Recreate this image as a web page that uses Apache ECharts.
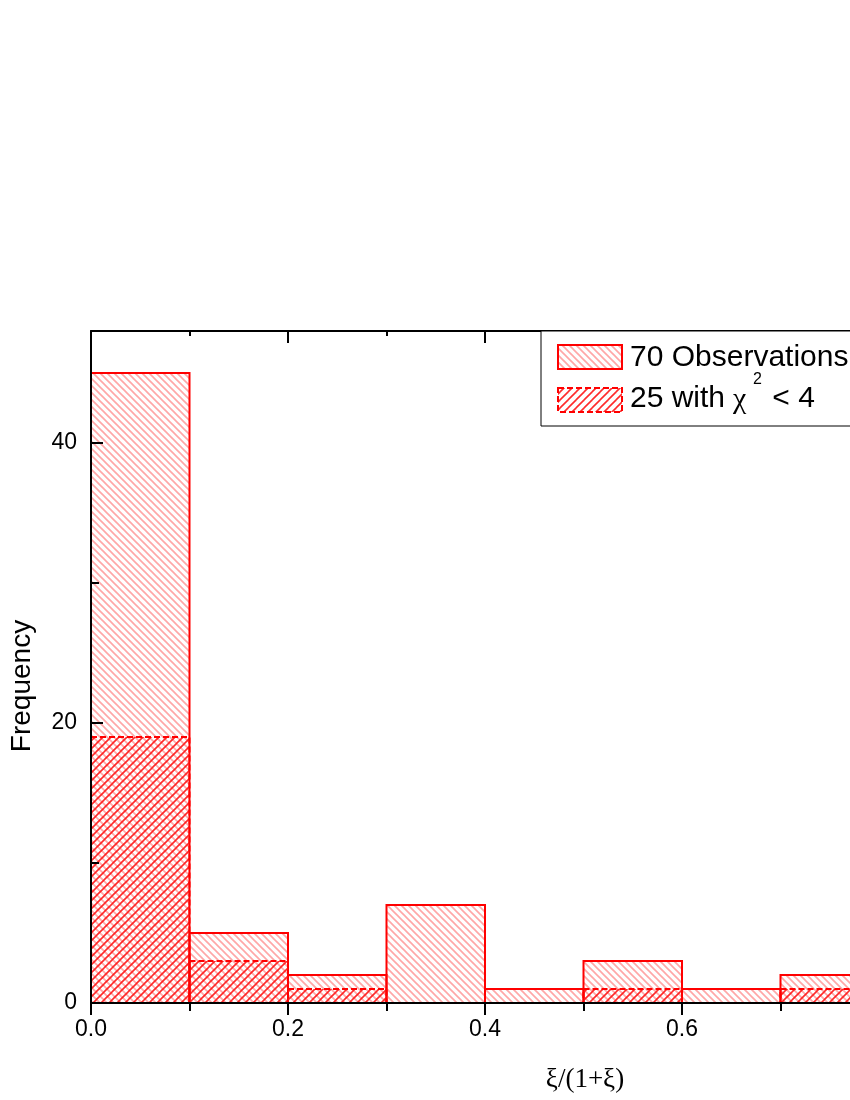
<!DOCTYPE html>
<html>
<head>
<meta charset="utf-8">
<script src="https://cdn.jsdelivr.net/npm/echarts@6/dist/echarts.min.js"></script>
<style>
html,body{margin:0;padding:0;background:#fff;}
#c{width:850px;height:1100px;}
</style>
</head>
<body>
<div id="c"></div>
<script>
// ---- data ----
const binEdges = [0.0, 0.1, 0.2, 0.3, 0.4, 0.5, 0.6, 0.7, 0.8, 0.9, 1.0];
const obsAll = [45, 5, 2, 7, 1, 3, 1, 2, 2, 2];      // 70 Observations
const obsChi = [19, 3, 1, 0, 0, 1, 0, 1, 0, 0];      // 25 with chi^2 < 4
const xTickLabels = ['0.0', '0.2', '0.4', '0.6', '0.8', '1.0'];
const yTickValues = [0, 20, 40];
const yMinorTickValues = [10, 30];
const legendNames = ['70 Observations', '25 with ', 'χ', '2', ' < 4'];
const xTitle = 'ξ/(1+ξ)';
const yTitle = 'Frequency';

// ---- hatch patterns ----
function hatch(dir, color, width, p) {
  const c = document.createElement('canvas');
  c.width = p; c.height = p;
  const g = c.getContext('2d');
  g.strokeStyle = color; g.lineWidth = width; g.lineCap = 'square';
  for (let k = -1; k <= 1; k++) {
    g.beginPath();
    if (dir === 'back') { g.moveTo(k * p, 0); g.lineTo(k * p + p, p); }
    else { g.moveTo(k * p, p); g.lineTo(k * p + p, 0); }
    g.stroke();
  }
  return c;
}
const patAll = { image: hatch('back', 'rgba(255,80,80,0.5)', 1.7, 7), repeat: 'repeat' };
const patChi = { image: hatch('fwd', 'rgba(255,20,20,0.9)', 1.6, 8), repeat: 'repeat' };

const dataAll = obsAll.map((v, i) => [binEdges[i], binEdges[i + 1], v]);
const dataChi = obsChi.map((v, i) => [binEdges[i], binEdges[i + 1], v]);

function makeRender(fill, dash) {
  return function (params, api) {
    const v = api.value(2);
    if (!v) return null;
    const p0 = api.coord([api.value(0), v]);
    const p1 = api.coord([api.value(1), 0]);
    return {
      type: 'rect',
      shape: { x: p0[0], y: p0[1], width: p1[0] - p0[0], height: p1[1] - p0[1] },
      style: { fill: fill, stroke: '#ff0000', lineWidth: 2, lineDash: dash }
    };
  };
}

const chart = echarts.init(document.getElementById('c'), null, { renderer: 'canvas' });
const lab = { fontFamily: 'Liberation Sans, Arial, sans-serif', fontSize: 23, color: '#000' };

chart.setOption({
  animation: false,
  backgroundColor: '#fff',
  grid: { left: 91, top: 331, right: -226, bottom: 97, containLabel: false, outerBoundsMode: 'none' },
  xAxis: [
    {
      type: 'value', position: 'bottom', min: 0, max: 1, interval: 0.2, z: 10,
      axisLine: { show: true, onZero: false, lineStyle: { color: '#000', width: 2 } },
      axisTick: { show: true, inside: false, length: 12, lineStyle: { color: '#000', width: 2 } },
      minorTick: { show: true, splitNumber: 2, length: 8, lineStyle: { color: '#000', width: 2 } },
      axisLabel: Object.assign({ margin: 15, formatter: (v) => xTickLabels[Math.round(v / 0.2)] }, lab),
      splitLine: { show: false }, minorSplitLine: { show: false }
    },
    {
      type: 'value', position: 'top', min: 0, max: 1, interval: 0.2, z: 10,
      axisLine: { show: true, onZero: false, lineStyle: { color: '#000', width: 2 } },
      axisTick: { show: true, inside: true, length: 12, lineStyle: { color: '#000', width: 2 } },
      minorTick: { show: true, splitNumber: 2, length: 5, lineStyle: { color: '#000', width: 2 } },
      axisLabel: { show: false }, splitLine: { show: false }
    }
  ],
  yAxis: [
    {
      type: 'value', position: 'left', min: 0, max: 48, z: 10,
      axisLine: { show: true, onZero: false, lineStyle: { color: '#000', width: 2 } },
      axisTick: { show: true, inside: true, length: 12, customValues: yTickValues, lineStyle: { color: '#000', width: 2 } },
      axisLabel: Object.assign({ margin: 14, customValues: yTickValues }, lab),
      splitLine: { show: false }
    },
    {
      type: 'value', position: 'left', offset: 0, min: 0, max: 48, z: 10,
      axisLine: { show: false, onZero: false },
      axisTick: { show: true, inside: true, length: 8, customValues: yMinorTickValues, lineStyle: { color: '#000', width: 2 } },
      axisLabel: { show: false }, splitLine: { show: false }
    }
  ],
  series: [
    {
      type: 'custom', name: legendNames[0], xAxisIndex: 0, yAxisIndex: 0, z: 2,
      encode: { x: [0, 1], y: 2 }, data: dataAll, renderItem: makeRender(patAll, null)
    },
    {
      type: 'custom', name: '25', xAxisIndex: 0, yAxisIndex: 0, z: 3,
      encode: { x: [0, 1], y: 2 }, data: dataChi, renderItem: makeRender(patChi, [6, 3])
    }
  ],
  graphic: [
    { type: 'rect', z: 20, shape: { x: 541, y: 331, width: 340, height: 95 },
      style: { fill: '#fff', stroke: '#000', lineWidth: 1 } },
    { type: 'rect', z: 21, shape: { x: 558, y: 345, width: 64, height: 24 },
      style: { fill: patAll, stroke: '#ff0000', lineWidth: 2 } },
    { type: 'rect', z: 21, shape: { x: 558, y: 388, width: 64, height: 24 },
      style: { fill: patChi, stroke: '#ff0000', lineWidth: 2, lineDash: [6, 3] } },
    { type: 'text', z: 21, x: 630, y: 357.5,
      style: { text: legendNames[0], font: '30px "Liberation Sans", Arial, sans-serif', fill: '#000', verticalAlign: 'middle' } },
    { type: 'text', z: 21, x: 630, y: 399,
      style: { text: legendNames[1], font: '30px "Liberation Sans", Arial, sans-serif', fill: '#000', verticalAlign: 'middle' } },
    { type: 'text', z: 21, x: 733, y: 400,
      style: { text: legendNames[2], font: '30px "Liberation Serif", serif', fill: '#000', verticalAlign: 'middle' } },
    { type: 'text', z: 21, x: 753, y: 372,
      style: { text: legendNames[3], font: '16px "Liberation Sans", Arial, sans-serif', fill: '#000', verticalAlign: 'top' } },
    { type: 'text', z: 21, x: 764, y: 399,
      style: { text: legendNames[4], font: '30px "Liberation Sans", Arial, sans-serif', fill: '#000', verticalAlign: 'middle' } },
    { type: 'text', z: 21, x: 585, y: 1080,
      style: { text: xTitle, font: '27px "Liberation Serif", "Times New Roman", serif', fill: '#000', align: 'center', verticalAlign: 'middle' } },
    { type: 'text', z: 21, x: 22, y: 686, rotation: Math.PI / 2,
      style: { text: yTitle, font: '28px "Liberation Sans", Arial, sans-serif', fill: '#000', align: 'center', verticalAlign: 'middle' } }
  ]
});
</script>
</body>
</html>
